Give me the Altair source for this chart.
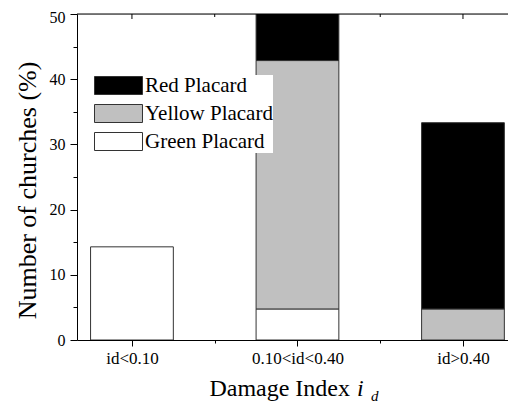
import altair as alt
import pandas as pd

categories = ["id<0.10", "0.10<id<0.40", "id>0.40"]
placards = ["Red Placard", "Yellow Placard", "Green Placard"]
colors = ["#000000", "#c0c0c0", "#ffffff"]
green = [14.29, 4.76, 0.0]
yellow = [0.0, 38.10, 4.76]
red = [0.0, 9.52, 28.57]
y_ticks = [0, 5, 10, 15, 20, 25, 30, 35, 40, 45, 50]
x_major = [1, 2, 3]
x_minor = [1.5, 2.5]

rows = []
for i, c in enumerate(categories):
    for p, vals, rank in [("Green Placard", green, 0), ("Yellow Placard", yellow, 1), ("Red Placard", red, 2)]:
        rows.append({"cat": c, "pos": i + 1, "placard": p, "rank": rank, "value": vals[i]})
df = pd.DataFrame(rows)

W, H = 431, 326
FONT = "Times New Roman, Liberation Serif, Tinos, serif"

label_expr = " : ".join(f"datum.value == {i + 1} ? '{c}'" for i, c in enumerate(categories)) + " : ''"

x_enc = alt.X("x0:Q",
              scale=alt.Scale(domain=[0.668, 3.272], nice=False, zero=False),
              axis=alt.Axis(values=sorted(x_major + x_minor), labelExpr=label_expr, grid=False,
                            tickSize={"condition": {"test": "datum.value % 1 === 0", "value": 6}, "value": 3},
                            labelFont=FONT, labelFontSize=17, labelColor="black",
                            labelPadding=4, domainColor="black", tickColor="black"),
              title=None)

bars = (
    alt.Chart(df)
    .transform_filter("datum.value > 0")
    .transform_stack(stack="value", groupby=["pos"], as_=["y0", "y1"],
                     sort=[alt.SortField(field="rank", order="ascending")])
    .transform_calculate(x0="datum.pos - 0.25", x1="datum.pos + 0.25")
    .mark_bar(clip=True, stroke="#333333", strokeWidth=1)
    .encode(
        x=x_enc,
        x2="x1:Q",
        y=alt.Y("y0:Q",
                scale=alt.Scale(domain=[0, 50], nice=False),
                axis=alt.Axis(values=y_ticks, grid=False,
                              labelExpr="datum.value % 10 === 0 ? datum.label : ''",
                              labelOffset={"condition": {"test": "datum.value === 50", "value": 3}, "value": 0},
                              tickSize={"condition": {"test": "datum.value % 10 === 0", "value": 7}, "value": 4},
                              labelFont=FONT, labelFontSize=16, labelColor="black",
                              labelPadding=5, domainColor="black", tickColor="black",
                              title="Number of churches (%)", titleFont=FONT,
                              titleFontSize=26, titleFontWeight="normal",
                              titleColor="black", titlePadding=9, titleY=176)),
        y2="y1:Q",
        fill=alt.Fill("placard:N",
                      scale=alt.Scale(domain=placards, range=colors),
                      legend=alt.Legend(orient="none", legendX=16, legendY=61, title=None,
                                        symbolType="M-1,-1H4.333V1H-1Z", symbolSize=324,
                                        symbolStrokeColor="#333333", symbolStrokeWidth=1,
                                        symbolOpacity=1, labelFont=FONT, labelFontSize=21,
                                        labelColor="black", labelOffset=31, rowPadding=5,
                                        fillColor="white", padding=0)),
    )
)

top_line = alt.Chart(pd.DataFrame({"t": [0]})).mark_rule(color="black", strokeWidth=1).encode(
    x=alt.value(0), x2=alt.value(W), y=alt.value(0)
)

top_major = alt.Chart(pd.DataFrame({"x0": x_major})).mark_rule(color="black", strokeWidth=1).encode(
    x=x_enc, y=alt.value(0), y2=alt.value(5)
)
top_minor = alt.Chart(pd.DataFrame({"x0": x_minor})).mark_rule(color="black", strokeWidth=1).encode(
    x=x_enc, y=alt.value(0), y2=alt.value(3)
)

t_main = alt.Chart(pd.DataFrame({"t": ["Damage Index"]})).mark_text(
    font=FONT, fontSize=24, align="right", baseline="alphabetic", color="black"
).encode(x=alt.value(273), y=alt.value(382), text="t:N")

t_i = alt.Chart(pd.DataFrame({"t": ["i"]})).mark_text(
    font=FONT, fontSize=24, fontStyle="italic", align="left", baseline="alphabetic", color="black"
).encode(x=alt.value(280), y=alt.value(382), text="t:N")

t_d = alt.Chart(pd.DataFrame({"t": ["d"]})).mark_text(
    font=FONT, fontSize=15, fontStyle="italic", align="left", baseline="alphabetic", color="black"
).encode(x=alt.value(294), y=alt.value(387), text="t:N")

chart = (
    alt.layer(bars, top_line, top_major, top_minor, t_main, t_i, t_d)
    .properties(width=W, height=H,
                autosize=alt.AutoSizeParams(type="none"),
                padding={"left": 69, "top": 6, "right": 0, "bottom": 66})
    .configure_view(stroke=None)
    .configure(background="white")
)

chart.save("out.html", embed_options={"renderer": "svg", "actions": False})
